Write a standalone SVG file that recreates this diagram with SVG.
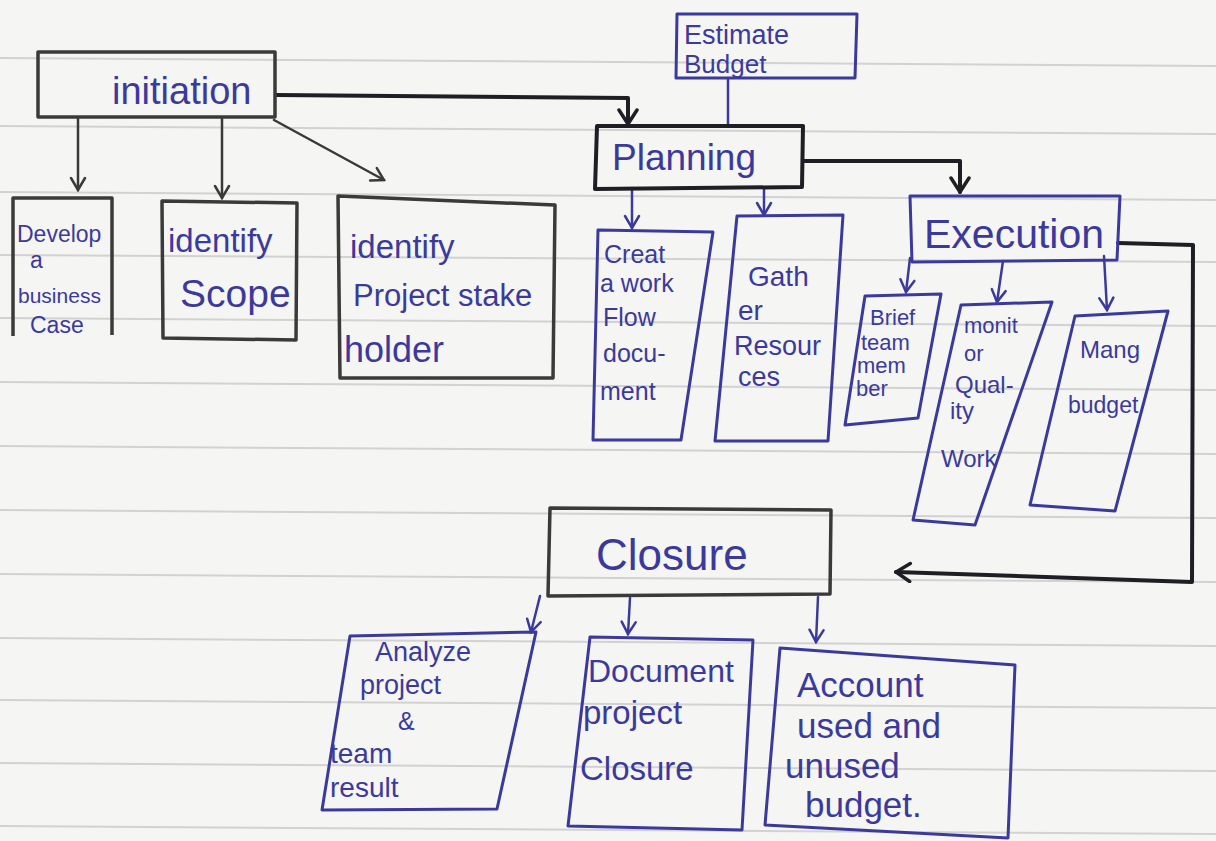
<svg xmlns="http://www.w3.org/2000/svg" width="1216" height="841" viewBox="0 0 1216 841">
<defs>
<style>
.paper{fill:#f5f5f3}
.rule{stroke:#d2d2d2;stroke-width:2;fill:none}
.bx{fill:none;stroke:#3b3a9c;stroke-width:3;stroke-linejoin:round}
.gbx{fill:none;stroke:#3a3a3a;stroke-width:3.5;stroke-linejoin:round}
.kbx{fill:none;stroke:#1e1e24;stroke-width:4;stroke-linejoin:round}
.t{font-family:"Liberation Sans","DejaVu Sans",sans-serif;fill:#3b3a9c}
.c{fill:none;stroke-linejoin:round;stroke-linecap:round}
.cb{stroke:#3b3a9c;stroke-width:2.5}
.cg{stroke:#3a3a3a;stroke-width:2.5}
.ck{stroke:#1e1e24;stroke-width:4}
</style>
<marker id="ab" viewBox="-14 -9 16 18" markerWidth="16" markerHeight="18" refX="0" refY="0" orient="auto" markerUnits="userSpaceOnUse"><path d="M-12,-7 L0,0 L-12,7" fill="none" stroke="#3b3a9c" stroke-width="2.5" stroke-linecap="round"/></marker>
<marker id="ag" viewBox="-14 -9 16 18" markerWidth="16" markerHeight="18" refX="0" refY="0" orient="auto" markerUnits="userSpaceOnUse"><path d="M-12,-7 L0,0 L-12,7" fill="none" stroke="#3a3a3a" stroke-width="2.5" stroke-linecap="round"/></marker>
<marker id="ak" viewBox="-18 -11 20 22" markerWidth="20" markerHeight="22" refX="0" refY="0" orient="auto" markerUnits="userSpaceOnUse"><path d="M-14,-9 L0,0 L-14,9" fill="none" stroke="#1e1e24" stroke-width="3.5" stroke-linecap="round"/></marker>
</defs>

<rect class="paper" x="0" y="0" width="1216" height="841"/>
<g id="ruling">
<path class="rule" d="M0,58 L1216,66"/>
<path class="rule" d="M0,126 L1216,134"/>
<path class="rule" d="M0,192 L1216,200"/>
<path class="rule" d="M0,255 L1216,262"/>
<path class="rule" d="M0,318 L1216,326"/>
<path class="rule" d="M0,382 L1216,390"/>
<path class="rule" d="M0,446 L1216,454"/>
<path class="rule" d="M0,510 L1216,518"/>
<path class="rule" d="M0,574 L1216,582"/>
<path class="rule" d="M0,638 L1216,646"/>
<path class="rule" d="M0,700 L1216,708"/>
<path class="rule" d="M0,763 L1216,771"/>
<path class="rule" d="M0,826 L1216,834"/>
</g>

<g id="connectors">
<path class="c ck" d="M276,95 L628,98 L628,124" marker-end="url(#ak)"/>
<path class="c cb" d="M728,78 L728,126"/>
<path class="c ck" d="M803,161 L960,161 L960,192" marker-end="url(#ak)"/>
<path class="c ck" d="M1118,243 L1193,245 L1192,582 L896,572" marker-end="url(#ak)"/>
<path class="c cg" d="M78,118 L78,190" marker-end="url(#ag)"/>
<path class="c cg" d="M222,118 L222,198" marker-end="url(#ag)"/>
<path class="c cg" d="M274,120 L384,180" marker-end="url(#ag)"/>
<path class="c cb" d="M632,188 L632,228" marker-end="url(#ab)"/>
<path class="c cb" d="M764,188 L764,215" marker-end="url(#ab)"/>
<path class="c cb" d="M910,258 L906,292" marker-end="url(#ab)"/>
<path class="c cb" d="M1003,261 L997,302" marker-end="url(#ab)"/>
<path class="c cb" d="M1104,256 L1107,310" marker-end="url(#ab)"/>
<path class="c cb" d="M540,596 L531,632" marker-end="url(#ab)"/>
<path class="c cb" d="M630,598 L628,634" marker-end="url(#ab)"/>
<path class="c cb" d="M818,597 L816,642" marker-end="url(#ab)"/>
</g>

<g id="initiation">
<path class="gbx" d="M38,52 L275,52 L275,117 L38,117 Z" stroke-width="2.5"/>
<text class="t" x="112" y="104" font-size="38">initiation</text>
</g>

<g id="estimate-budget">
<path class="bx" d="M677,14 L857,14 L855,78 L676,78 Z"/>
<text class="t" x="684" y="44" font-size="27">Estimate</text>
<text class="t" x="684" y="73" font-size="26">Budget</text>
</g>

<g id="planning">
<path class="kbx" d="M597,126 L803,126 L802,187 L595,189 Z"/>
<text class="t" x="612" y="170" font-size="37">Planning</text>
</g>

<g id="execution">
<path class="bx" d="M910,196 L1120,196 L1117,260 L912,262 Z"/>
<text class="t" x="924" y="248" font-size="41">Execution</text>
</g>

<g id="closure">
<path class="gbx" d="M550,508 L831,510 L830,594 L548,596 Z" stroke="#2a2a2a"/>
<text class="t" x="596" y="570" font-size="44">Closure</text>
</g>

<g id="develop-business-case">
<path class="gbx" d="M13,336 L13,198 L112,198 L112,335" stroke-width="2"/>
<text class="t" x="17" y="242" font-size="23">Develop</text>
<text class="t" x="30" y="268" font-size="23">a</text>
<text class="t" x="18" y="303" font-size="21">business</text>
<text class="t" x="30" y="333" font-size="23">Case</text>
</g>

<g id="identify-scope">
<path class="gbx" d="M162,201 L297,203 L296,340 L163,338 Z"/>
<text class="t" x="168" y="252" font-size="33">identify</text>
<text class="t" x="180" y="307" font-size="39">Scope</text>
</g>

<g id="identify-stakeholder">
<path class="gbx" d="M338,196 L555,205 L553,378 L340,378 Z" stroke-width="4"/>
<text class="t" x="350" y="258" font-size="33">identify</text>
<text class="t" x="353" y="306" font-size="31">Project stake</text>
<text class="t" x="344" y="362" font-size="36">holder</text>
</g>

<g id="create-workflow">
<path class="bx" d="M598,230 L713,232 L681,440 L593,440 Z"/>
<text class="t" x="604" y="263" font-size="25">Creat</text>
<text class="t" x="600" y="292" font-size="25">a work</text>
<text class="t" x="603" y="326" font-size="25">Flow</text>
<text class="t" x="603" y="362" font-size="25">docu-</text>
<text class="t" x="600" y="400" font-size="25">ment</text>
</g>

<g id="gather-resources">
<path class="bx" d="M737,216 L843,215 L828,441 L715,441 Z"/>
<text class="t" x="748" y="286" font-size="28">Gath</text>
<text class="t" x="738" y="320" font-size="28">er</text>
<text class="t" x="734" y="355" font-size="27">Resour</text>
<text class="t" x="738" y="386" font-size="27">ces</text>
</g>

<g id="brief-team">
<path class="bx" d="M865,296 L941,294 L918,418 L845,425 Z"/>
<text class="t" x="870" y="325" font-size="22">Brief</text>
<text class="t" x="861" y="350" font-size="22">team</text>
<text class="t" x="857" y="373" font-size="22">mem</text>
<text class="t" x="856" y="396" font-size="22">ber</text>
</g>

<g id="monitor-quality">
<path class="bx" d="M961,305 L1052,302 L975,525 L913,520 Z"/>
<text class="t" x="964" y="333" font-size="22">monit</text>
<text class="t" x="964" y="361" font-size="22">or</text>
<text class="t" x="955" y="393" font-size="24">Qual-</text>
<text class="t" x="950" y="419" font-size="24">ity</text>
<text class="t" x="941" y="467" font-size="24">Work</text>
</g>

<g id="manage-budget">
<path class="bx" d="M1075,316 L1168,311 L1115,511 L1030,505 Z"/>
<text class="t" x="1080" y="358" font-size="24">Mang</text>
<text class="t" x="1068" y="413" font-size="23">budget</text>
</g>

<g id="analyze-results">
<path class="bx" d="M350,636 L536,632 L497,809 L322,810 Z"/>
<text class="t" x="375" y="661" font-size="27">Analyze</text>
<text class="t" x="360" y="694" font-size="27">project</text>
<text class="t" x="398" y="730" font-size="25">&amp;</text>
<text class="t" x="330" y="763" font-size="28">team</text>
<text class="t" x="330" y="797" font-size="28">result</text>
</g>

<g id="document-closure">
<path class="bx" d="M590,637 L753,640 L742,830 L568,826 Z"/>
<text class="t" x="588" y="682" font-size="32">Document</text>
<text class="t" x="583" y="724" font-size="33">project</text>
<text class="t" x="580" y="780" font-size="33">Closure</text>
</g>

<g id="account-budget">
<path class="bx" d="M780,648 L1015,665 L1008,838 L765,825 Z"/>
<text class="t" x="797" y="697" font-size="35">Account</text>
<text class="t" x="797" y="738" font-size="35">used and</text>
<text class="t" x="785" y="778" font-size="35">unused</text>
<text class="t" x="805" y="817" font-size="35">budget.</text>
</g>
</svg>
